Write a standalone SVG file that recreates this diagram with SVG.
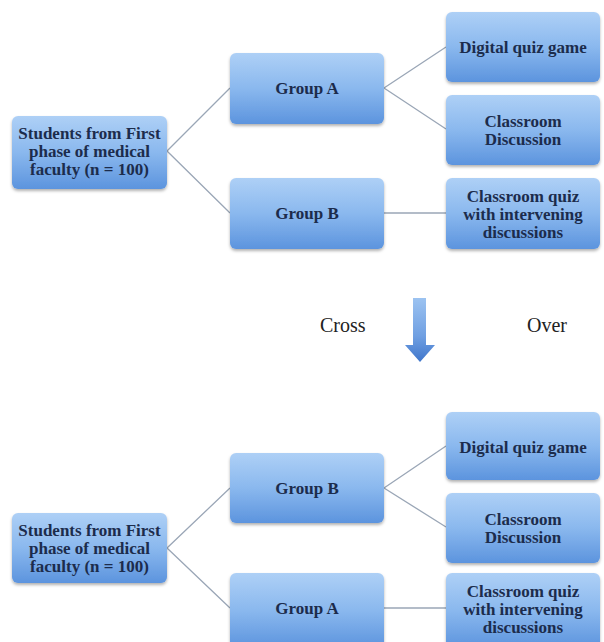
<svg xmlns="http://www.w3.org/2000/svg" width="604" height="642" viewBox="0 0 604 642">
<defs>
<linearGradient id="bg" x1="0" y1="0" x2="0" y2="1">
<stop offset="0" stop-color="#aed0f6"/>
<stop offset="0.5" stop-color="#8ab8ee"/>
<stop offset="1" stop-color="#5c94de"/>
</linearGradient>
<linearGradient id="ag" x1="0" y1="0" x2="0" y2="1">
<stop offset="0" stop-color="#9cc3f1"/>
<stop offset="0.6" stop-color="#6f9fe2"/>
<stop offset="1" stop-color="#3f76cb"/>
</linearGradient>
<filter id="sh" x="-10%" y="-10%" width="120%" height="130%">
<feDropShadow dx="0" dy="2" stdDeviation="1.8" flood-color="#000" flood-opacity="0.3"/>
</filter>
</defs>
<style>
.box{fill:url(#bg);filter:url(#sh)}
.t{font-family:"Liberation Serif","DejaVu Serif",serif;font-weight:bold;font-size:17px;fill:#1c2c4c;text-anchor:middle}
.c{stroke:#9aa6b6;stroke-width:1.3;fill:none}
.m{font-family:"Liberation Serif",serif;font-size:20px;fill:#222}
</style>
<rect width="604" height="642" fill="#fff"/>
<g id="connectors">
<path class="c" d="M167 151 L230 88 M167 151 L230 213 M384 88 L446 47 M384 88 L446 129 M384 213 L446 213"/>
<path class="c" d="M167 548 L230 488 M167 548 L230 608 M384 488 L446 446 M384 488 L446 527 M384 608 L446 608"/>
</g>
<g id="top-students"><rect class="box" x="12" y="116" width="155" height="73" rx="6"/>
<text class="t" x="89.5" y="139">Students from First</text><text class="t" x="89.5" y="157">phase of medical</text><text class="t" x="89.5" y="175">faculty (n = 100)</text></g>
<g id="top-groupA"><rect class="box" x="230" y="53" width="154" height="71" rx="6"/>
<text class="t" x="307" y="94">Group A</text></g>
<g id="top-groupB"><rect class="box" x="230" y="178" width="154" height="71" rx="6"/>
<text class="t" x="307" y="219">Group B</text></g>
<g id="top-digital"><rect class="box" x="446" y="12" width="154" height="70" rx="6"/>
<text class="t" x="523" y="53">Digital quiz game</text></g>
<g id="top-discussion"><rect class="box" x="446" y="95" width="154" height="70" rx="6"/>
<text class="t" x="523" y="127">Classroom</text><text class="t" x="523" y="145">Discussion</text></g>
<g id="top-quiz"><rect class="box" x="446" y="178" width="154" height="71" rx="6"/>
<text class="t" x="523" y="202">Classroom quiz</text><text class="t" x="523" y="220">with intervening</text><text class="t" x="523" y="238">discussions</text></g>
<g id="crossover">
<text class="m" x="320" y="332">Cross</text>
<text class="m" x="527" y="332">Over</text>
<path d="M413 298 H426 V345 H435 L420 362 L405 345 H413 Z" fill="url(#ag)"/>
</g>
<g id="bot-students"><rect class="box" x="12" y="513" width="155" height="70" rx="6"/>
<text class="t" x="89.5" y="536">Students from First</text><text class="t" x="89.5" y="554">phase of medical</text><text class="t" x="89.5" y="572">faculty (n = 100)</text></g>
<g id="bot-groupB"><rect class="box" x="230" y="453" width="154" height="70" rx="6"/>
<text class="t" x="307" y="494">Group B</text></g>
<g id="bot-groupA"><rect class="box" x="230" y="573" width="154" height="75" rx="6"/>
<text class="t" x="307" y="614">Group A</text></g>
<g id="bot-digital"><rect class="box" x="446" y="412" width="154" height="68" rx="6"/>
<text class="t" x="523" y="453">Digital quiz game</text></g>
<g id="bot-discussion"><rect class="box" x="446" y="493" width="154" height="70" rx="6"/>
<text class="t" x="523" y="525">Classroom</text><text class="t" x="523" y="543">Discussion</text></g>
<g id="bot-quiz"><rect class="box" x="446" y="573" width="154" height="75" rx="6"/>
<text class="t" x="523" y="597">Classroom quiz</text><text class="t" x="523" y="615">with intervening</text><text class="t" x="523" y="633">discussions</text></g>
</svg>
